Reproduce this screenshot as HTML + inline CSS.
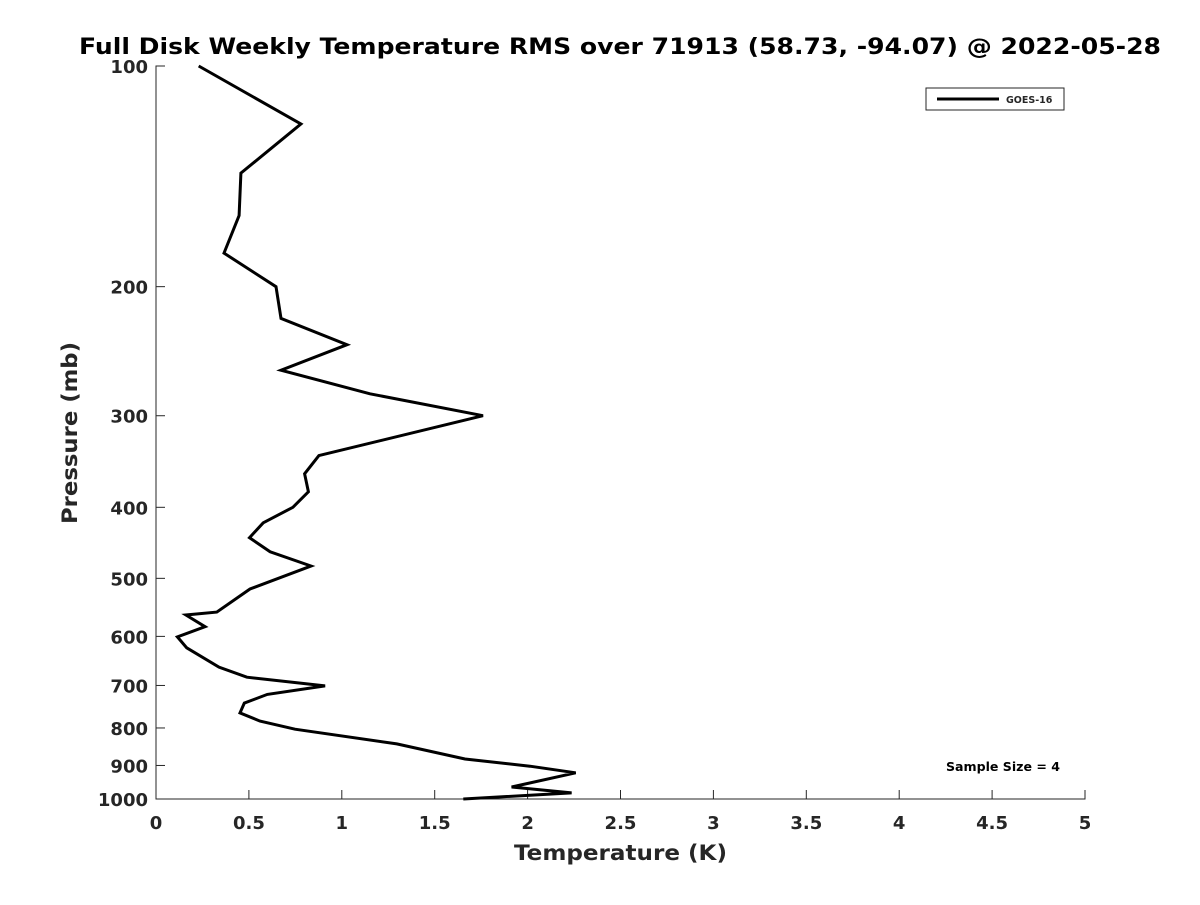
<!DOCTYPE html>
<html><head><meta charset="utf-8"><style>
body{margin:0;background:#fff;}
text{font-family:"DejaVu Sans","Liberation Sans",sans-serif;fill:#262626;}
</style></head><body>
<svg width="1200" height="900">
<rect width="1200" height="900" fill="#fff"/>
<text x="79" y="54" font-size="22" font-weight="bold" style="fill:#000" textLength="1082" lengthAdjust="spacingAndGlyphs">Full Disk Weekly Temperature RMS over 71913 (58.73, -94.07) @ 2022-05-28</text>
<g id="axes"></g>
<g id="plot"></g>
<g>
<rect x="926" y="88" width="138" height="22" fill="#fff" stroke="#262626" stroke-width="1"/>
<line x1="937" y1="99" x2="999" y2="99" stroke="#000" stroke-width="3"/>
<text x="1006" y="103" font-size="9.5" font-weight="bold">GOES-16</text>
</g>
<text x="946" y="771" font-size="12" font-weight="bold" style="fill:#000" textLength="114" lengthAdjust="spacingAndGlyphs">Sample Size = 4</text>
<text x="514" y="860" font-size="21" font-weight="bold" textLength="213" lengthAdjust="spacingAndGlyphs">Temperature (K)</text>
<text transform="translate(77,524) rotate(-90)" font-size="21" font-weight="bold" textLength="182" lengthAdjust="spacingAndGlyphs">Pressure (mb)</text>
</svg>
<script>
const xTicks=[0,0.5,1,1.5,2,2.5,3,3.5,4,4.5,5];
const xTickLabels=["0","0.5","1","1.5","2","2.5","3","3.5","4","4.5","5"];
const yTicks=[100,200,300,400,500,600,700,800,900,1000];
const yTickLabels=["100","200","300","400","500","600","700","800","900","1000"];
const pressure=[100,120,140,160,180,200,221,240,260,280,300,340,360,381,400,420,440,460,481,517,556,561,582,601,622,661,682,701,720,740,763,783,803,841,882,902,921,963,981,1000];
const rmsTemp=[0.23,0.78,0.457,0.447,0.366,0.646,0.673,1.028,0.673,1.152,1.76,0.877,0.80,0.82,0.737,0.577,0.503,0.614,0.834,0.506,0.327,0.161,0.264,0.115,0.165,0.339,0.489,0.91,0.599,0.475,0.452,0.56,0.748,1.296,1.663,2.013,2.259,1.914,2.237,1.654];
const X0=156,X1=1085,Y0=66,Y1=799;
const xs=v=>X0+(v-0)/(5-0)*(X1-X0);
const ys=p=>Y0+(Math.log10(p)-2)/(1)*(Y1-Y0);
const NS="http://www.w3.org/2000/svg";
const axes=document.getElementById('axes'),plot=document.getElementById('plot');
function mk(tag,attrs,parent){const e=document.createElementNS(NS,tag);for(const k in attrs)e.setAttribute(k,attrs[k]);parent.appendChild(e);return e;}
const xa=mk('path',{d:`M${X0},${Y1-6}V${Y1}H${X1}V${Y1-6}`,fill:'none',stroke:'#262626','stroke-width':1},axes);


const ya=mk('path',{d:`M${X0+6},${Y0}H${X0}V${Y1}`,fill:'none',stroke:'#262626','stroke-width':1},axes);


xTicks.forEach((v,i)=>{const x=xs(v);
 const t=mk('line',{x1:x,x2:x,y1:Y1,y2:Y1-9,stroke:'#262626'},axes);
 
 
 const l=mk('text',{x:x,y:Y1+30,'text-anchor':'middle','font-size':18,'font-weight':'bold'},axes);l.textContent=xTickLabels[i];
 
 
});
yTicks.forEach((v,i)=>{const y=ys(v);
 const t=mk('line',{x1:X0,x2:X0+9,y1:y,y2:y,stroke:'#262626'},axes);
 
 
 const l=mk('text',{x:X0-8,y:y+7,'text-anchor':'end','font-size':18,'font-weight':'bold'},axes);l.textContent=yTickLabels[i];
 
 
});
const pts=pressure.map((p,i)=>xs(rmsTemp[i]).toFixed(1)+','+ys(p).toFixed(1)).join(' ');
const line=mk('polyline',{points:pts,fill:'none',stroke:'#000','stroke-width':3,'stroke-linejoin':'miter'},plot);


</script>
</body></html>
